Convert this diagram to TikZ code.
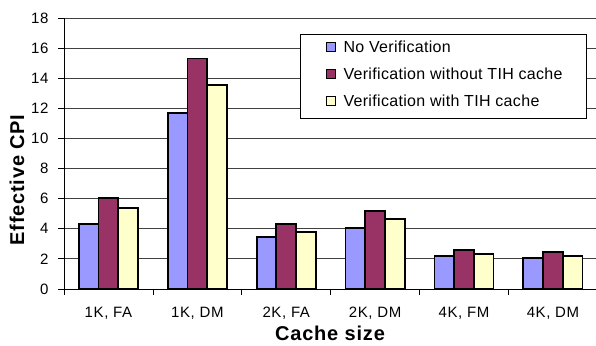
\documentclass[tikz,border=0pt]{standalone}
\usepackage{fontspec}
\setmainfont{Liberation Sans}
\usetikzlibrary{calc}
\definecolor{barbleu}{HTML}{9999FF}
\definecolor{barprune}{HTML}{993366}
\definecolor{barjaune}{HTML}{FFFFCC}
\tikzset{
  barre/.style={draw=black,line width=1.8pt},
  grille/.style={line width=0.8pt,black!75},
  graduation/.style={font=\fontsize{15}{18}\selectfont\addfontfeature{LetterSpace=4}},
  legende/.style={font=\fontsize{16}{19}\selectfont\addfontfeature{LetterSpace=2}},
  titreaxe/.style={font=\fontsize{20}{24}\selectfont\bfseries\addfontfeature{LetterSpace=4}}
}

\begin{document}
\begin{tikzpicture}[x=1pt,y=1pt]
				\useasboundingbox (0,0) rectangle (596,345);
				% Grille et graduations
				\foreach \v in {2,4,...,18} \draw [grille] (64,{56+\v*15.06}) -- (596,{56+\v*15.06});
				\foreach \v in {0,2,...,18} {
					\draw [line width=0.8pt] (58,{56+\v*15.06}) -- (64,{56+\v*15.06});
					\node [graduation,anchor=east] at (52,{56+\v*15.06}) {\v};
				}
				\draw [line width=0.8pt] (64,56) -- (64,327);
				\draw [line width=0.8pt] (64,56) -- (596,56);
				\foreach \i/\lab in {0/{1K, FA},1/{1K, DM},2/{2K, FA},3/{2K, DM},4/{4K, FM},5/{4K, DM}} {
					\draw [line width=0.8pt] ({64+88.9*\i},56) -- ({64+88.9*\i},50);
					\node [graduation] at ({64+88.9*(\i+0.5)},32) {\lab};
				}
				% Barres
				\foreach \i/\a/\b/\c in {0/4.3/6.04/5.4,1/11.69/15.3/13.55,2/3.43/4.3/3.76,3/4.05/5.2/4.67,4/2.19/2.59/2.32,5/2.08/2.44/2.19} {
					\filldraw [barre,fill=barbleu] ({64+88.9*\i+14.8},56) rectangle ++(19.7,{\a*15.06});
					\filldraw [barre,fill=barprune] ({64+88.9*\i+34.5},56) rectangle ++(19.7,{\b*15.06});
					\filldraw [barre,fill=barjaune] ({64+88.9*\i+54.2},56) rectangle ++(19.7,{\c*15.06});
				}
				% Titres des axes
				\node [titreaxe] at (330,12) {Cache size};
				\node [titreaxe,rotate=90] at (17,165) {Effective CPI};
				% Légende
				\draw [line width=0.8pt,fill=white] (300.7,310.3) rectangle (586,227);
				\filldraw [line width=0.9pt,fill=barbleu] (326,293.5) rectangle ++(9,9);
				\filldraw [line width=0.9pt,fill=barprune] (326,266.5) rectangle ++(9,9);
				\filldraw [line width=0.9pt,fill=barjaune] (326,239.5) rectangle ++(9,9);
				\node [legende,anchor=west] at (340,298) {No Verification};
				\node [legende,anchor=west] at (340,271) {Verification without TIH cache};
				\node [legende,anchor=west] at (340,244) {Verification with TIH cache};
\end{tikzpicture}
\end{document}
